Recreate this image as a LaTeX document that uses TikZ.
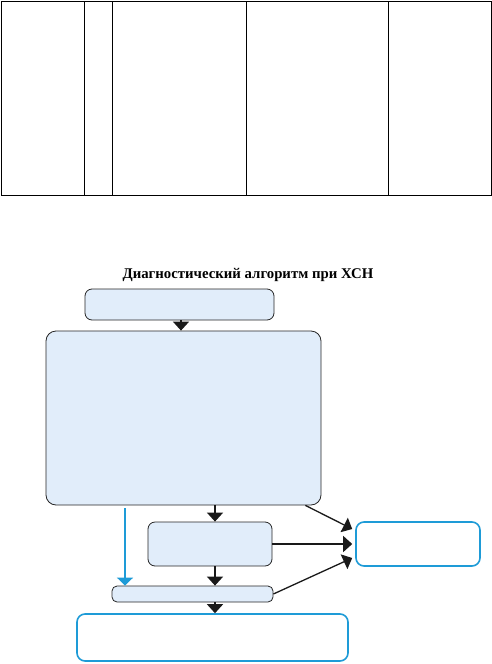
\documentclass[tikz,border=0pt]{standalone}
\usepackage{fontspec}
\setmainfont{Liberation Serif}
\usetikzlibrary{arrows.meta,positioning}

\definecolor{boxfill}{RGB}{225,237,250}
\definecolor{boxblue}{RGB}{30,155,215}

\begin{document}
\begin{tikzpicture}[
    x=1pt, y=-1pt,
    >=Latex,
    every node/.style={font=\small},
    box/.style={
        draw=black!85,
        fill=boxfill,
        line width=0.8pt,
        rounded corners=7pt,
        inner sep=0pt
    },
    bluebox/.style={
        draw=boxblue,
        fill=white,
        line width=1.6pt,
        rounded corners=8pt,
        inner sep=0pt
    },
    line/.style={-{Triangle[width=16pt,length=9pt]}, line width=1.3pt, black!90},
    blueline/.style={-{Triangle[width=16pt,length=8pt]}, line width=1.5pt, boxblue},
    tab/.style={line width=1pt}
]
\useasboundingbox (0,0) rectangle (492,664);

% Table
\draw[tab] (1,1.3) rectangle (491,195.3);
\foreach \xc in {84.3,112.3,246.3,388.3}
    \draw[tab] (\xc,1.3) -- (\xc,195.3);

% Title
\node[font=\bfseries\fontsize{14.8}{17}\selectfont] (title) at (248,275)
{Диагностический алгоритм при ХСН};

% Boxes
\node[box, minimum width=189pt, minimum height=31pt] (start) at (179.5,304.5) {};
\node[box, rounded corners=10pt, minimum width=275pt, minimum height=174pt] (exam) at (183.5,418) {};
\node[box, minimum width=124pt, minimum height=44pt] (test) at (210,544) {};
\node[bluebox, minimum width=124pt, minimum height=44pt] (other) at (418,544) {};
\node[box, rounded corners=5pt, minimum width=161pt, minimum height=16pt] (confirm) at (192.5,594) {};
\node[bluebox, minimum width=271pt, minimum height=47pt] (result) at (212.5,637.5) {};

% Arrows
\coordinate (mid) at (215,0);
\coordinate (side) at (125,508);

\draw[line] ([xshift=1.5pt]start.south) -- ([xshift=1.5pt]start.south |- exam.north);
\draw[line] (mid |- exam.south) -- (mid |- test.north);
\draw[line] (mid |- test.south) -- (mid |- confirm.north);
\draw[line] (mid |- confirm.south) -- (mid |- result.north);

\draw[line] (test.east) -- ([xshift=-3pt]other.west);
\draw[line] ([xshift=-16pt]exam.south east) -- ([xshift=-3pt,yshift=15pt]other.west);
\draw[line] (confirm.east) -- ([xshift=-3pt,yshift=-14pt]other.west);

\draw[blueline] (side) -- (side |- confirm.north);

\end{tikzpicture}
\end{document}
